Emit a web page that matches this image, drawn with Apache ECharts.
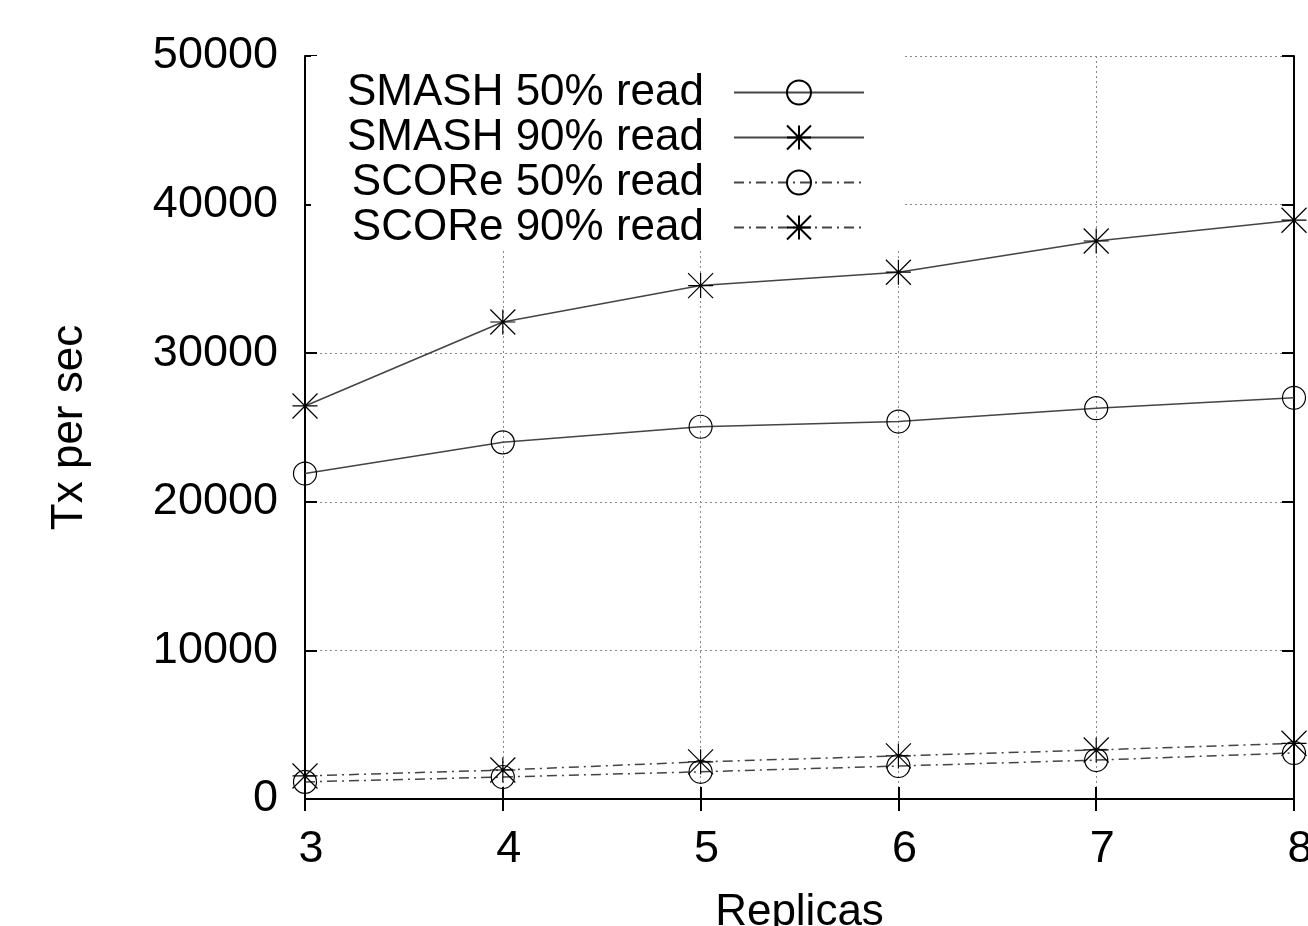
<!DOCTYPE html>
<html>
<head>
<meta charset="utf-8">
<script src="https://cdn.jsdelivr.net/npm/echarts@6/dist/echarts.min.js"></script>
<style>
  html, body { margin: 0; padding: 0; background: #fff; }
  #chart { width: 1308px; height: 926px; }
</style>
</head>
<body>
<div id="chart"></div>
<script>
// replicas on the x axis
const replicas = [3, 4, 5, 6, 7, 8]
// tx per sec
const smash50 = [21900, 24000, 25050, 25400, 26300, 27000]
const smash90 = [26450, 32100, 34550, 35450, 37550, 38950]
const score50 = [1150, 1480, 1830, 2220, 2620, 3100]
const score90 = [1550, 1950, 2500, 2900, 3300, 3750]
const seriesNames = ['SMASH 50% read', 'SMASH 90% read', 'SCORe 50% read', 'SCORe 90% read']

const font = 'Liberation Sans, Arial, Helvetica, sans-serif'
// gnuplot style asterisk: + and x together
const starPath = 'path://M0,-12L0,12M-12,-12L12,12M-12,12L12,-12M-12,0L12,0'

const chart = echarts.init(document.getElementById('chart'))

function pairs(vals) {
  return vals.map((v, i) => [replicas[i], v])
}

function makeSeries(name, vals, isStar, dashed) {
  return {
    name: name,
    type: 'line',
    data: pairs(vals),
    symbol: isStar ? starPath : 'circle',
    symbolSize: isStar ? 25 : 23,
    showAllSymbol: true,
    lineStyle: {
      color: '#444',
      width: 1.5,
      type: dashed ? [10, 5, 2, 5] : 'solid'
    },
    itemStyle: {
      color: 'rgba(255,255,255,0)',
      borderColor: '#000',
      borderWidth: 1.2
    },
    emphasis: { disabled: true },
    animation: false,
    z: 3
  }
}

const tickStyle = { inside: true, length: 12, lineStyle: { color: '#000', width: 2 } }
const axisLineStyle = { show: true, lineStyle: { color: '#000', width: 2 } }
const gridLine = { show: true, lineStyle: { color: '#888', width: 1, type: [2, 3] } }

const option = {
  backgroundColor: '#fff',
  animation: false,
  grid: { left: 305, right: 14, top: 56, bottom: 127, containLabel: false, outerBoundsMode: 'none' },
  legend: {
    orient: 'vertical',
    right: 403,
    top: 56,
    align: 'right',
    padding: [14, 40, 0, 36],
    backgroundColor: '#fff',
    itemWidth: 130,
    itemHeight: 30,
    itemGap: 0,
    selectedMode: false,
    textStyle: { fontFamily: font, fontSize: 44, lineHeight: 45, color: '#000', padding: [0, 25, 0, 0] },
    data: seriesNames,
    z: 5
  },
  xAxis: [
    {
      type: 'value', min: 3, max: 8, interval: 1,
      position: 'bottom',
      name: 'Replicas', nameLocation: 'middle', nameGap: 92,
      nameTextStyle: { fontFamily: font, fontSize: 44, color: '#000' },
      axisLine: axisLineStyle, axisTick: tickStyle,
      axisLabel: { fontFamily: font, fontSize: 45, color: '#000', margin: 28, padding: [0, 0, 0, 12] },
      splitLine: gridLine
    },
    {
      type: 'value', min: 3, max: 8, interval: 1,
      position: 'top',
      axisLine: axisLineStyle, axisTick: tickStyle,
      axisLabel: { show: false }, splitLine: { show: false }
    }
  ],
  yAxis: [
    {
      type: 'value', min: 0, max: 50000, interval: 10000,
      position: 'left',
      name: 'Tx per sec', nameLocation: 'middle', nameGap: 213, nameRotate: 90,
      nameTextStyle: { fontFamily: font, fontSize: 44, color: '#000' },
      axisLine: axisLineStyle, axisTick: tickStyle,
      axisLabel: { fontFamily: font, fontSize: 45, color: '#000', margin: 27, formatter: v => String(v) },
      splitLine: gridLine
    },
    {
      type: 'value', min: 0, max: 50000, interval: 10000,
      position: 'right',
      axisLine: axisLineStyle, axisTick: tickStyle,
      axisLabel: { show: false }, splitLine: { show: false }
    }
  ],
  series: [
    makeSeries(seriesNames[0], smash50, false, false),
    makeSeries(seriesNames[1], smash90, true, false),
    makeSeries(seriesNames[2], score50, false, true),
    makeSeries(seriesNames[3], score90, true, true)
  ]
}

chart.setOption(option)
</script>
</body>
</html>
